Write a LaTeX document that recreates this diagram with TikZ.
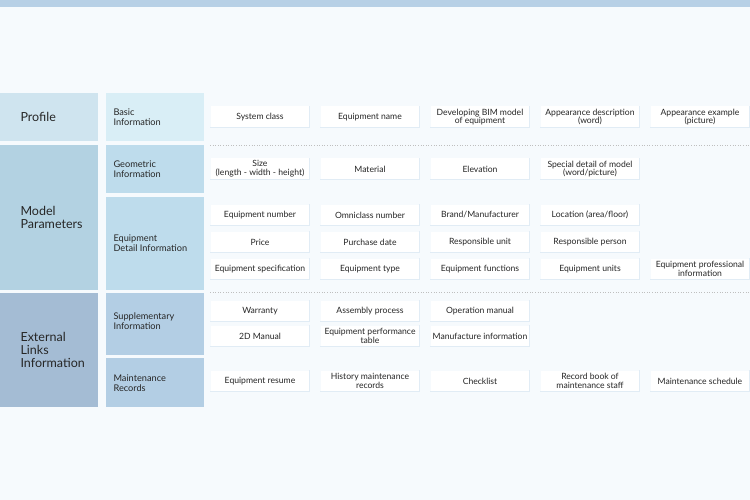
\documentclass[tikz,border=0pt]{standalone}
\usepackage{fontspec}
\setmainfont{Lato}
\begin{document}
\begin{tikzpicture}[x=1pt,y=-1pt,
 sub/.style={align=left,font=\fontsize{9.2}{9.6}\selectfont,text=black!85,anchor=west},
 cell/.style={draw=none,fill=white,minimum width=99pt,minimum height=21pt,align=center,font=\fontsize{8.6}{8.8}\selectfont,text=black!85,inner sep=1pt},
 sep/.style={draw=black!25,dotted,line width=0.6pt}]
\fill[color={rgb,255:red,246;green,250;blue,253}] (0,0) rectangle (750,500);
\useasboundingbox (0,0) rectangle (750,500);
\fill[color={rgb,255:red,183;green,208;blue,230}] (0,0) rectangle (750,7);
% first column
\fill[color={rgb,255:red,207;green,228;blue,239}] (0,93) rectangle (98,141);
\fill[color={rgb,255:red,179;green,210;blue,226}] (0,145) rectangle (98,290);
\fill[color={rgb,255:red,164;green,188;blue,212}] (0,293) rectangle (98,407);
\node[sub,font=\fontsize{12.5}{13}\selectfont] (p) at (17,117) {Profile};
\node[sub,font=\fontsize{12.5}{13}\selectfont] (m) at (17,217) {Model\\Parameters};
\node[sub,font=\fontsize{12.5}{13}\selectfont] (e) at (17,350) {External\\Links\\Information};
% second column
\fill[color={rgb,255:red,217;green,238;blue,246}] (106,93) rectangle (204,141);
\fill[color={rgb,255:red,190;green,220;blue,236}] (106,145) rectangle (204,193);
\fill[color={rgb,255:red,190;green,220;blue,236}] (106,197) rectangle (204,290);
\fill[color={rgb,255:red,179;green,206;blue,228}] (106,293) rectangle (204,355);
\fill[color={rgb,255:red,179;green,206;blue,228}] (106,358) rectangle (204,407);
\node[sub] (s1) at (110,117) {Basic\\Information};
\node[sub] (s2) at (110,169) {Geometric\\Information};
\node[sub] (s3) at (110,243) {Equipment\\Detail Information};
\node[sub] (s4) at (110,321) {Supplementary\\Information};
\node[sub] (s5) at (110,383) {Maintenance\\Records};
\draw[sep] (210,145) -- (750,145);
\draw[sep] (210,292) -- (750,292);
\foreach \x/\y/\t [count=\i] in {
 260/117/System class, 370/117/Equipment name, 480/117/{Developing BIM model\\of equipment}, 590/117/{Appearance description\\(word)}, 700/117/{Appearance example\\(picture)},
 260/169/{Size\\(length - width - height)}, 370/169/Material, 480/169/Elevation, 590/169/{Special detail of model\\(word/picture)},
 260/215/Equipment number, 370/215/Omniclass number, 480/215/{Brand/Manufacturer}, 590/215/{Location (area/floor)},
 260/242/Price, 370/242/Purchase date, 480/242/Responsible unit, 590/242/Responsible person,
 260/269/Equipment specification, 370/269/Equipment type, 480/269/Equipment functions, 590/269/Equipment units, 700/269/{Equipment professional\\information},
 260/311/Warranty, 370/311/Assembly process, 480/311/Operation manual,
 260/336/2D Manual, 370/336/{Equipment performance\\table}, 480/336/Manufacture information,
 260/381/Equipment resume, 370/381/{History maintenance\\records}, 480/381/Checklist, 590/381/{Record book of\\maintenance staff}, 700/381/Maintenance schedule}
{
 \node[cell] (c\i) at (\x,\y) {\t};
 \draw[color={rgb,255:red,225;green,236;blue,245},line width=1pt] (c\i.south west) -- (c\i.south east) -- (c\i.north east);
}
\end{tikzpicture}
\end{document}
